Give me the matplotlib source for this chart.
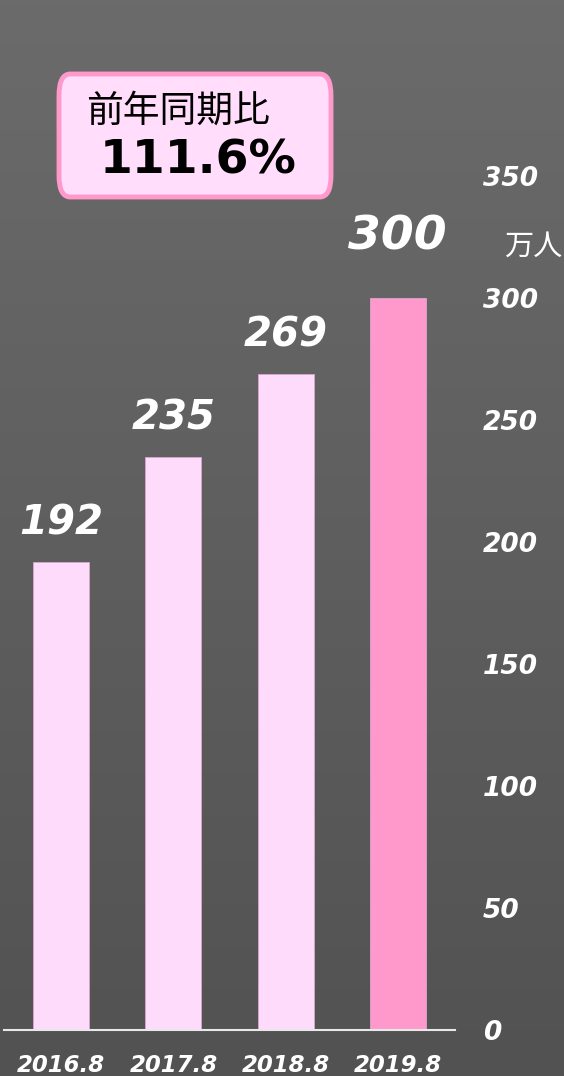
import numpy as np
import matplotlib.pyplot as plt
from matplotlib.patches import FancyBboxPatch

# data
months = ['2016.8', '2017.8', '2018.8', '2019.8']
visitors = [192, 235, 269, 300]  # 万人
bar_colors = ['#FFDBFB', '#FFDBFB', '#FFDBFB', '#FF99CC']
yoy_label = '前年同期比'
yoy_value = '111.6%'
y_ticks = [0, 50, 100, 150, 200, 250, 300, 350]

plt.rcParams['font.family'] = ['DejaVu Sans', 'Noto Sans CJK JP']

fig = plt.figure(figsize=(5.64, 10.76), dpi=100)

# gradient background
bg = fig.add_axes([0, 0, 1, 1], zorder=-10)
grad = np.linspace(0x6b, 0x52, 256).reshape(-1, 1) / 255.0
bg.imshow(np.dstack([grad, grad, grad]), aspect='auto', extent=[0, 1, 0, 1])
bg.axis('off')

ax = fig.add_axes([4 / 564, 46 / 1076, 451 / 564, 854 / 1076])
ax.patch.set_alpha(0)

x = np.arange(len(months))
ax.bar(x, visitors, width=0.5, color=bar_colors, edgecolor='#D9A6CF', linewidth=0.6)

for xi, v in zip(x, visitors):
    last = xi == len(visitors) - 1
    ax.text(xi, v + (20 if last else 11), str(v), ha='center', va='baseline',
            color='white', fontsize=34 if last else 29,
            fontweight='bold', style='italic')

ax.set_xlim(-0.51, 3.51)
ax.set_ylim(0, 350)
ax.set_xticks(x)
ax.set_xticklabels(months, fontsize=16.5, fontweight='bold', style='italic', color='white')
ax.yaxis.tick_right()
ax.set_yticks(y_ticks)
ax.set_yticklabels([str(t) for t in y_ticks], fontsize=19, fontweight='bold',
                   style='italic', color='white', ha='left')
ax.tick_params(axis='both', length=0)
ax.tick_params(axis='y', pad=20)
ax.tick_params(axis='x', pad=17)

for s in ['top', 'right', 'left']:
    ax.spines[s].set_visible(False)
ax.spines['bottom'].set_color('#E8E8E8')
ax.spines['bottom'].set_linewidth(1.5)

fig.text(504 / 564, 1 - 247 / 1076, '万人', fontsize=21, color='white',
         ha='left', va='center', family=['Noto Sans CJK JP', 'DejaVu Sans'])

# year-over-year box
box = FancyBboxPatch((59 / 564, 1 - 197 / 1076), 272 / 564, 123 / 1076,
                     boxstyle='round,pad=0,rounding_size=0.02',
                     transform=fig.transFigure, facecolor='#FFDDFB',
                     edgecolor='#FF99CC', linewidth=3.5, zorder=5)
fig.patches.append(box)
fig.text(86 / 564, 1 - 111 / 1076, yoy_label, fontsize=26.5, color='black',
         ha='left', va='center', family=['Noto Sans CJK JP', 'DejaVu Sans'], zorder=6)
fig.text(198 / 564, 1 - 161 / 1076, yoy_value, fontsize=34, fontweight='bold',
         color='black', ha='center', va='center', zorder=6)

fig.savefig('out.png', dpi=100)
